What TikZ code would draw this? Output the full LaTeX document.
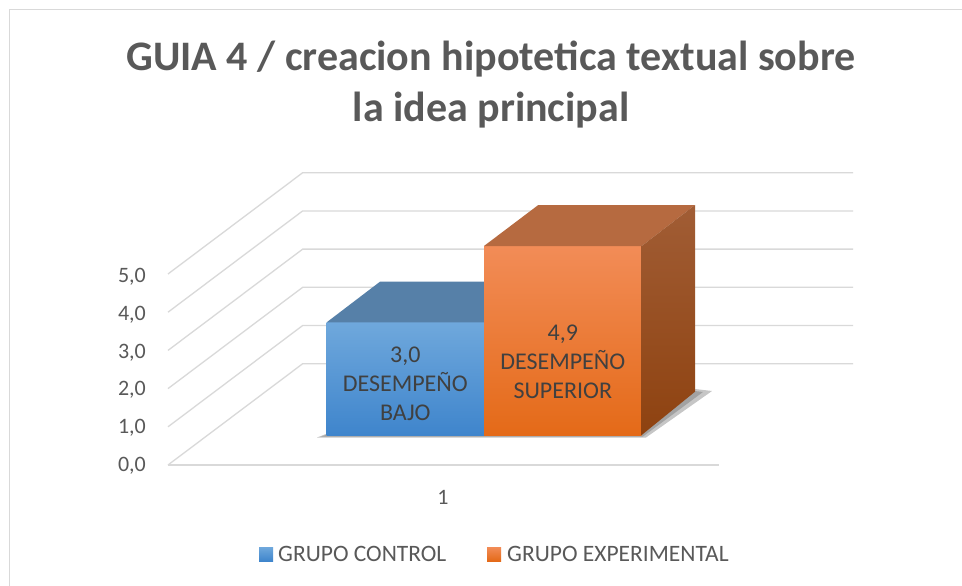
\documentclass[tikz,border=0pt]{standalone}
\usepackage{fontspec}
\setmainfont{Carlito}
\definecolor{titlegray}{HTML}{595959}
\definecolor{labgray}{HTML}{595959}
\definecolor{bartext}{HTML}{404040}
\definecolor{gridc}{HTML}{D9D9D9}
\definecolor{bluetop}{HTML}{6FA8DC}
\definecolor{bluebot}{HTML}{3F85CC}
\definecolor{bluelid}{HTML}{5680A8}
\definecolor{orgtop}{HTML}{F28C57}
\definecolor{orgbot}{HTML}{E46A18}
\definecolor{orglid}{HTML}{B66A40}
\definecolor{orgsidet}{HTML}{A15D35}
\definecolor{orgsideb}{HTML}{8E4210}
\tikzset{
  gridline/.style={draw=gridc, line width=1.3pt},
  ylab/.style={anchor=east, text=labgray, font=\fontsize{22}{24}\selectfont, inner sep=0pt},
  barlab/.style={align=center, text=bartext, font=\fontsize{24}{29}\selectfont, inner sep=0pt},
  legtext/.style={anchor=west, text=labgray, font=\fontsize{23.5}{26}\selectfont, inner sep=0pt},
}
\begin{document}
\begin{tikzpicture}[x=1pt,y=-1pt]
\useasboundingbox (0,0) rectangle (962,586);
\fill[white] (0,0) rectangle (962,586);
% chart border
\draw[draw=gridc, line width=1.3pt] (9.5,586) -- (9.5,9.5) -- (962,9.5);
% title
\node[text=titlegray, font=\bfseries\fontsize{42}{51}\selectfont, align=center, inner sep=0pt] (title) at (491,85)
  {GUIA 4 / creacion hipotetica textual sobre\\la idea principal};
% grid
\foreach \k in {0,...,5}{
  \draw[gridline] (168,{465-38.2*\k}) -- (302.7,{363.7-38.2*\k}) -- (853,{363.7-38.2*\k});
}
\draw[gridline] (168,465) -- (719,465);
% y labels
\foreach \k/\t in {0/{0,0},1/{1,0},2/{2,0},3/{3,0},4/{4,0},5/{5,0}}{
  \node[ylab] (y\k) at (146,{466-37.9*\k}) {\t};
}
% shadows
\foreach \o in {0.06,0.08,0.10}{
  \fill[black, opacity=\o] (317,437.5) -- (646,437.5) -- (712,391) -- (695,389) -- (641,434) -- (326,434) -- cycle;
}
\fill[black, opacity=0.18] (321,436.5) -- (643,436.5) -- (703,392) -- (695,391) -- (641,435) -- (326,435) -- cycle;
% blue bar
\shade[top color=bluetop, bottom color=bluebot] (326.7,322.3) rectangle (484,435);
\fill[bluelid] (326.7,322.3) -- (380,281.7) -- (537.3,281.7) -- (484,322.3) -- cycle;
% orange bar
\shade[top color=orgtop, bottom color=orgbot] (484,246) rectangle (641.7,435);
\fill[orglid] (484,246) -- (538.3,205) -- (695,205) -- (641.7,246) -- cycle;
\shade[top color=orgsidet, bottom color=orgsideb] (641.7,246) -- (695,205) -- (695,391.7) -- (641.7,435) -- cycle;
% bar labels
\node[barlab] (lb1) at (405.3,384) {3,0\\DESEMPEÑO\\BAJO};
\node[barlab] (lb2) at (562.8,361.5) {4,9\\DESEMPEÑO\\SUPERIOR};
% category label
\node[text=labgray, font=\fontsize{22}{24}\selectfont, inner sep=0pt] (cat) at (443,497) {1};
% legend
\shade[top color=bluetop, bottom color=bluebot] (259,547) rectangle (273,561);
\node[legtext] (lg1) at (278,553.5) {GRUPO CONTROL};
\shade[top color=orgtop, bottom color=orgbot] (487,547) rectangle (501,561);
\node[legtext] (lg2) at (507,553.5) {GRUPO EXPERIMENTAL};
\end{tikzpicture}
\end{document}
